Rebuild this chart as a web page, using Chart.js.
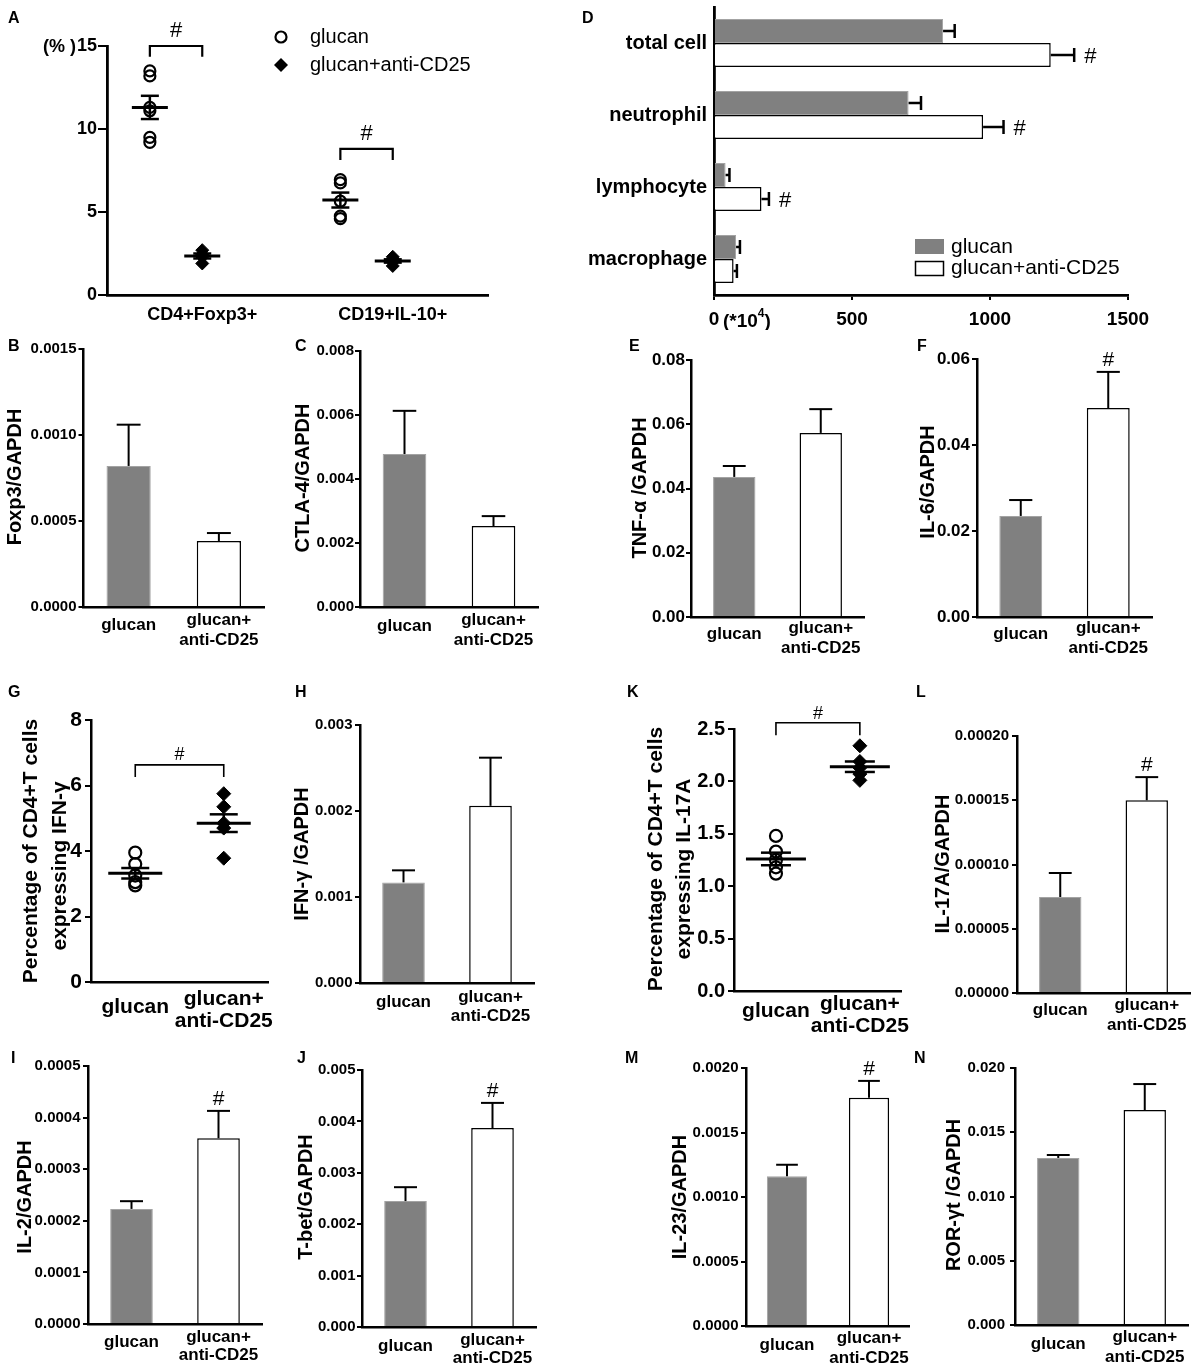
<!DOCTYPE html>
<html>
<head>
<meta charset="utf-8">
<title>glucan vs glucan+anti-CD25</title>
<script src="https://cdn.jsdelivr.net/npm/chart.js@4.4.1/dist/chart.umd.min.js"></script>
<style>
  html, body { margin: 0; padding: 0; background: #fff; }
  body { position: relative; width: 1195px; height: 1371px; overflow: hidden; }
  canvas { position: absolute; }
</style>
</head>
<body>
<script>
// ---- values ----
const groups = ['glucan', 'glucan+anti-CD25'];
const labelLines = [['glucan'], ['glucan+', 'anti-CD25']];

// A: percentage of cells (dot plot)
const aCategories = ['CD4+Foxp3+', 'CD19+IL-10+'];
const aGlucanFoxp3 = [13.5, 13.2, 11.3, 11.1, 9.5, 9.2];
const aAntiFoxp3 = [2.7, 2.45, 2.3, 1.9];
const aGlucanIL10 = [6.95, 6.75, 5.65, 4.75, 4.6];
const aAntiIL10 = [2.3, 2.15, 2.0, 1.75];
const aMeans = [11.3, 2.35, 5.72, 2.05];
const aSems = [0.7, 0.15, 0.45, 0.1];
const aPositions = [0.9, 2, 4.9, 6];
const aTicks = [0, 5, 10, 15];

// D: cell counts (*10^4)
const dCategories = ['total cell', 'neutrophil', 'lymphocyte', 'macrophage'];
const dGlucan = [830, 705, 42, 80];
const dGlucanSem = [42, 45, 14, 14];
const dAnti = [1220, 975, 172, 71];
const dAntiSem = [85, 74, 27, 12];
const dSig = [true, true, true, false];
const dTicks = [0, 500, 1000, 1500];

// mRNA / GAPDH, order [glucan, glucan+anti-CD25]
const foxp3Mean = [0.00082, 0.000384], foxp3Sem = [0.00024, 0.000046], foxp3Sig = [false, false];
const foxp3Ticks = [0, 0.0005, 0.001, 0.0015];
const ctla4Mean = [0.00478, 0.00253], ctla4Sem = [0.00135, 0.00031], ctla4Sig = [false, false];
const ctla4Ticks = [0, 0.002, 0.004, 0.006, 0.008];
const tnfMean = [0.0436, 0.0573], tnfSem = [0.0034, 0.0074], tnfSig = [false, false];
const tnfTicks = [0, 0.02, 0.04, 0.06, 0.08];
const il6Mean = [0.0235, 0.0486], il6Sem = [0.0037, 0.0084], il6Sig = [false, true];
const il6Ticks = [0, 0.02, 0.04, 0.06];
const ifngMean = [0.00117, 0.00206], ifngSem = [0.00014, 0.00056], ifngSig = [false, false];
const ifngTicks = [0, 0.001, 0.002, 0.003];
const il17Mean = [0.0000747, 0.00015], il17Sem = [0.0000187, 0.000018], il17Sig = [false, true];
const il17Ticks = [0, 0.00005, 0.0001, 0.00015, 0.0002];
const il2Mean = [0.000223, 0.00036], il2Sem = [0.000015, 0.000053], il2Sig = [false, true];
const il2Ticks = [0, 0.0001, 0.0002, 0.0003, 0.0004, 0.0005];
const tbetMean = [0.00245, 0.00387], tbetSem = [0.00027, 0.00049], tbetSig = [false, true];
const tbetTicks = [0, 0.001, 0.002, 0.003, 0.004, 0.005];
const il23Mean = [0.00116, 0.00177], il23Sem = [0.00009, 0.00013], il23Sig = [false, true];
const il23Ticks = [0, 0.0005, 0.001, 0.0015, 0.002];
const rorMean = [0.013, 0.01673], rorSem = [0.00023, 0.00202], rorSig = [false, false];
const rorTicks = [0, 0.005, 0.01, 0.015, 0.02];

// G: % CD4+ T cells expressing IFN-γ
const gGlucan = [3.95, 3.6, 3.25, 3.05, 2.95];
const gAnti = [5.75, 5.35, 4.85, 4.7, 3.78];
const gMeans = [3.32, 4.85], gSems = [0.16, 0.27];
const gTicks = [0, 2, 4, 6, 8];

// K: % CD4+ T cells expressing IL-17A
const kGlucan = [1.48, 1.33, 1.25, 1.18, 1.12];
const kAnti = [2.34, 2.19, 2.13, 2.07, 2.01];
const kMeans = [1.26, 2.14], kSems = [0.06, 0.05];
const kTicks = [0, 0.5, 1, 1.5, 2, 2.5];

// ---- drawing ----
const FONT = '"Liberation Sans", Arial, Helvetica, sans-serif';
Chart.defaults.font.family = FONT;
Chart.defaults.color = '#000';
Chart.defaults.animation = false;
Chart.defaults.responsive = false;
Chart.defaults.plugins.legend.display = false;
Chart.defaults.plugins.tooltip.enabled = false;

const GRAY = '#808080';
const GRAY_EDGE = '#a3a3a3';

function addCanvas(rect) {
  const c = document.createElement('canvas');
  c.width = rect[2];
  c.height = rect[3];
  c.style.left = rect[0] + 'px';
  c.style.top = rect[1] + 'px';
  document.body.appendChild(c);
  return c;
}

function text(ctx, s, x, y, size, opts = {}) {
  ctx.save();
  ctx.font = `${opts.weight || 'bold'} ${size}px ${FONT}`;
  ctx.fillStyle = '#000';
  ctx.textAlign = opts.align || 'center';
  ctx.textBaseline = opts.baseline || 'alphabetic';
  ctx.translate(x, y);
  if (opts.rotate) ctx.rotate(-Math.PI / 2);
  ctx.fillText(s, 0, 0);
  const w = ctx.measureText(s).width;
  ctx.restore();
  return w;
}

function line(ctx, pts, w) {
  ctx.save();
  ctx.strokeStyle = '#000';
  ctx.lineWidth = w;
  ctx.beginPath();
  pts.forEach(([x, y], i) => (i ? ctx.lineTo(x, y) : ctx.moveTo(x, y)));
  ctx.stroke();
  ctx.restore();
}

function noPad(s) {
  s.paddingTop = 0; s.paddingBottom = 0; s.paddingLeft = 0; s.paddingRight = 0;
}

function valueAxis(p) {
  const [L] = p.rect;
  return {
    type: 'linear',
    min: p.ticks[0],
    max: p.ticks[p.ticks.length - 1],
    afterBuildTicks: s => { s.ticks = p.ticks.map(v => ({ value: v })); },
    afterFit: s => { s.width = p.axes[0] - L; noPad(s); },
    ticks: { callback: v => Number(v).toFixed(p.decimals), font: { size: p.tickFont, weight: 'bold' }, color: '#000', padding: p.tickPad },
    grid: { drawOnChartArea: false, drawTicks: true, tickLength: p.tickLen, color: '#000', lineWidth: 2 },
    border: { display: true, color: '#000', width: 2.5 }
  };
}

function padding(p) {
  const [L, T, W] = p.rect;
  return { left: 0, top: p.axes[1] - T, right: L + W - p.axes[2], bottom: 0 };
}

function drawCommon(chart, p, positions) {
  const ctx = chart.ctx;
  const [L, T] = p.rect;
  text(ctx, p.letter, p.letterAt[0] - L, p.letterAt[1] - T, 16, { align: 'left' });
  p.titles.forEach(([s, x, y]) => text(ctx, s, x - L, y - T, p.titleSize, { rotate: true, baseline: 'middle' }));
  const xs = chart.scales.x;
  const yAxis = p.axes[3] - T;
  positions.forEach((v, i) => {
    const x = xs.getPixelForValue(v);
    const lines = labelLines[i];
    if (lines.length === 1) text(ctx, lines[0], x, yAxis + p.base[0], p.xFont);
    else lines.forEach((s, k) => text(ctx, s, x, yAxis + p.base[1 + k], p.xFont));
  });
}

function xAxisPlain(p, type, extra) {
  const [, T, , H] = p.rect;
  return Object.assign({
    type,
    afterFit: s => { s.height = T + H - p.axes[3]; noPad(s); },
    ticks: { display: false },
    grid: { display: false, drawTicks: false },
    border: { display: true, color: '#000', width: 2.5 }
  }, extra || {});
}

function barPanel(p) {
  const c = addCanvas(p.rect);
  const deco = {
    id: 'deco',
    afterDatasetsDraw(chart) {
      const ctx = chart.ctx;
      const ys = chart.scales.y;
      chart.getDatasetMeta(0).data.forEach((bar, i) => {
        const top = ys.getPixelForValue(p.means[i] + p.sems[i]);
        const half = bar.width * 0.27;
        line(ctx, [[bar.x, bar.y], [bar.x, top]], 2);
        line(ctx, [[bar.x - half, top], [bar.x + half, top]], 2);
        if (p.sig[i]) text(ctx, '#', bar.x, top - 6, 21, { weight: 'normal' });
      });
      drawCommon(chart, p, [0, 1]);
    }
  };
  new Chart(c, {
    type: 'bar',
    data: {
      labels: groups,
      datasets: [{
        data: p.means,
        backgroundColor: [GRAY, '#ffffff'],
        borderColor: [GRAY_EDGE, '#000000'],
        borderWidth: [1, 1.5],
        barPercentage: 0.49,
        categoryPercentage: 1
      }]
    },
    options: {
      layout: { padding: padding(p) },
      scales: { x: xAxisPlain(p, 'category', { offset: true }), y: valueAxis(p) }
    },
    plugins: [deco]
  });
}

function dotStyles(r) {
  return [
    { pointStyle: 'circle', pointRadius: r, pointBorderWidth: 2.2, pointBorderColor: '#000', pointBackgroundColor: 'rgba(0,0,0,0)' },
    { pointStyle: 'rectRot', pointRadius: r + 1, pointBorderWidth: 1, pointBorderColor: '#000', pointBackgroundColor: '#000' }
  ];
}

function meanSem(ctx, cx, ys, mean, sem, p) {
  const m = ys.getPixelForValue(mean);
  const hi = ys.getPixelForValue(mean + sem);
  const lo = ys.getPixelForValue(mean - sem);
  line(ctx, [[cx, hi], [cx, lo]], 2.5);
  line(ctx, [[cx - p.semHalf, hi], [cx + p.semHalf, hi]], 2.5);
  line(ctx, [[cx - p.semHalf, lo], [cx + p.semHalf, lo]], 2.5);
  line(ctx, [[cx - p.meanHalf, m], [cx + p.meanHalf, m]], 3);
}

function bracket(ctx, xa, xb, ys, top, drop, lw, hashSize, hashGap) {
  const yt = ys.getPixelForValue(top);
  const yd = ys.getPixelForValue(drop);
  line(ctx, [[xa, yd], [xa, yt], [xb, yt], [xb, yd]], lw);
  text(ctx, '#', (xa + xb) / 2, yt - hashGap, hashSize, { weight: 'normal' });
}

function dotPanel(p) {
  const c = addCanvas(p.rect);
  const st = dotStyles(p.pointR);
  const deco = {
    id: 'deco',
    afterDatasetsDraw(chart) {
      const ctx = chart.ctx;
      const xs = chart.scales.x, ys = chart.scales.y;
      [0, 1].forEach(i => meanSem(ctx, xs.getPixelForValue(i), ys, p.means[i], p.sems[i], p));
      bracket(ctx, xs.getPixelForValue(0), xs.getPixelForValue(1), ys, p.bracket[0], p.bracket[1], 1.6, 18, p.hashGap);
      drawCommon(chart, p, [0, 1]);
    }
  };
  new Chart(c, {
    type: 'scatter',
    data: {
      datasets: [
        Object.assign({ data: p.glucan.map(v => ({ x: 0, y: v })) }, st[0]),
        Object.assign({ data: p.anti.map(v => ({ x: 1, y: v })) }, st[1])
      ]
    },
    options: {
      layout: { padding: padding(p) },
      scales: { x: xAxisPlain(p, 'linear', { min: -0.5, max: 1.5 }), y: valueAxis(p) }
    },
    plugins: [deco]
  });
}

// ---- panel A ----
(function () {
  const p = {
    rect: [0, 0, 590, 330], axes: [107, 46, 488, 295],
    ticks: aTicks, decimals: 0, tickFont: 18, tickLen: 9, tickPad: 1,
    meanHalf: 18, semHalf: 9
  };
  const c = addCanvas(p.rect);
  const st = dotStyles(5.5);
  const deco = {
    id: 'decoA',
    afterDatasetsDraw(chart) {
      const ctx = chart.ctx;
      const xs = chart.scales.x, ys = chart.scales.y;
      aPositions.forEach((pos, i) => meanSem(ctx, xs.getPixelForValue(pos), ys, aMeans[i], aSems[i], p));
      bracket(ctx, xs.getPixelForValue(aPositions[0]), xs.getPixelForValue(aPositions[1]), ys, 15, 14.35, 2.2, 22, 9);
      bracket(ctx, xs.getPixelForValue(aPositions[2]), xs.getPixelForValue(aPositions[3]), ys, 8.8, 8.13, 2.2, 22, 9);
      text(ctx, 'A', 8, 23, 16, { align: 'left' });
      text(ctx, '(% )', 76, 47, 18, { align: 'right', baseline: 'middle' });
      aCategories.forEach((s, i) => text(ctx, s, xs.getPixelForValue(aPositions[2 * i + 1]), 320, 18));
      // legend
      ctx.save();
      ctx.lineWidth = 2.2;
      ctx.beginPath(); ctx.arc(281, 37, 5.5, 0, Math.PI * 2); ctx.stroke();
      ctx.beginPath(); ctx.moveTo(281, 58); ctx.lineTo(288, 65); ctx.lineTo(281, 72); ctx.lineTo(274, 65); ctx.closePath(); ctx.fill();
      ctx.restore();
      text(ctx, groups[0], 310, 37, 20, { align: 'left', baseline: 'middle', weight: 'normal' });
      text(ctx, groups[1], 310, 65, 20, { align: 'left', baseline: 'middle', weight: 'normal' });
    }
  };
  const series = [aGlucanFoxp3, aAntiFoxp3, aGlucanIL10, aAntiIL10];
  new Chart(c, {
    type: 'scatter',
    data: {
      datasets: series.map((vals, i) => Object.assign({ data: vals.map(v => ({ x: aPositions[i], y: v })) }, st[i % 2]))
    },
    options: {
      layout: { padding: padding(p) },
      scales: {
        x: xAxisPlain(p, 'linear', { min: 0, max: 8, border: { display: true, color: '#000', width: 2.8 } }),
        y: Object.assign(valueAxis(p), { border: { display: true, color: '#000', width: 2.8 } })
      }
    },
    plugins: [deco]
  });
})();

// ---- panel D ----
(function () {
  const L = 575;
  const c = addCanvas([L, 0, 1195 - L, 330]);
  const deco = {
    id: 'decoD',
    afterDatasetsDraw(chart) {
      const ctx = chart.ctx;
      const xs = chart.scales.x;
      const sems = [dGlucanSem, dAntiSem];
      const vals = [dGlucan, dAnti];
      [0, 1].forEach(d => {
        chart.getDatasetMeta(d).data.forEach((bar, i) => {
          const end = xs.getPixelForValue(vals[d][i] + sems[d][i]);
          line(ctx, [[bar.x, bar.y], [end, bar.y]], 2.5);
          line(ctx, [[end, bar.y - 7], [end, bar.y + 7]], 2.5);
          if (d === 1 && dSig[i]) text(ctx, '#', end + 10, bar.y + 8, 22, { align: 'left', weight: 'normal' });
        });
      });
      text(ctx, 'D', 582 - L, 23, 16, { align: 'left' });
      // unit next to the zero tick
      let x = xs.getPixelForValue(0) + 9;
      x += text(ctx, '(*10', x, 327, 19, { align: 'left' });
      x += text(ctx, '4', x, 317, 12, { align: 'left' });
      text(ctx, ')', x, 327, 19, { align: 'left' });
      // legend
      ctx.save();
      ctx.fillStyle = GRAY;
      ctx.fillRect(915 - L, 239, 29, 15);
      ctx.strokeStyle = '#000';
      ctx.lineWidth = 1.5;
      ctx.strokeRect(915.5 - L, 261.5, 28, 14);
      ctx.restore();
      text(ctx, groups[0], 951 - L, 247, 21, { align: 'left', baseline: 'middle', weight: 'normal' });
      text(ctx, groups[1], 951 - L, 268, 21, { align: 'left', baseline: 'middle', weight: 'normal' });
    }
  };
  new Chart(c, {
    type: 'bar',
    data: {
      labels: dCategories,
      datasets: [
        { data: dGlucan, backgroundColor: GRAY, borderColor: GRAY_EDGE, borderWidth: 1 },
        { data: dAnti, backgroundColor: '#ffffff', borderColor: '#000000', borderWidth: 1.5 }
      ]
    },
    options: {
      indexAxis: 'y',
      datasets: { bar: { categoryPercentage: 0.667, barPercentage: 1 } },
      layout: { padding: { left: 0, top: 7, right: 1195 - 1128, bottom: 0 } },
      scales: {
        x: {
          type: 'linear', min: 0, max: 1500,
          afterBuildTicks: s => { s.ticks = dTicks.map(v => ({ value: v })); },
          afterFit: s => { s.height = 330 - 295; noPad(s); },
          ticks: { font: { size: 19, weight: 'bold' }, color: '#000', padding: 8, callback: v => String(v) },
          grid: { drawOnChartArea: false, drawTicks: true, tickLength: 5, color: '#000', lineWidth: 2 },
          border: { display: true, color: '#000', width: 2.8 }
        },
        y: {
          type: 'category',
          afterFit: s => { s.width = 714 - L; noPad(s); },
          ticks: { font: { size: 20, weight: 'bold' }, color: '#000', padding: 7 },
          grid: { display: false, drawTicks: false },
          border: { display: true, color: '#000', width: 2.8 }
        }
      }
    },
    plugins: [deco]
  });
})();

// ---- bar panels ----
const common = { tickLen: 5, titleSize: 20, xFont: 17 };
[
  { letter: 'B', letterAt: [8, 351], rect: [0, 330, 295, 330], axes: [83.5, 349, 264, 607],
    means: foxp3Mean, sems: foxp3Sem, sig: foxp3Sig, ticks: foxp3Ticks, decimals: 4, tickFont: 15, tickPad: 2,
    titles: [['Foxp3/GAPDH', 15.5, 477]], base: [23, 18, 38] },
  { letter: 'C', letterAt: [295, 351], rect: [295, 330, 295, 330], axes: [360, 351, 538, 607],
    means: ctla4Mean, sems: ctla4Sem, sig: ctla4Sig, ticks: ctla4Ticks, decimals: 3, tickFont: 15, tickPad: 1,
    titles: [['CTLA-4/GAPDH', 303, 478]], base: [24, 18, 38] },
  { letter: 'E', letterAt: [629, 351], rect: [590, 330, 320, 330], axes: [691, 360, 864, 617],
    means: tnfMean, sems: tnfSem, sig: tnfSig, ticks: tnfTicks, decimals: 2, tickFont: 17, tickPad: 1,
    titles: [['TNF-α /GAPDH', 640, 488]], base: [22, 16, 36] },
  { letter: 'F', letterAt: [917, 351], rect: [910, 330, 285, 330], axes: [977, 359, 1152, 617],
    means: il6Mean, sems: il6Sem, sig: il6Sig, ticks: il6Ticks, decimals: 2, tickFont: 17, tickPad: 2,
    titles: [['IL-6/GAPDH', 928, 482]], base: [22, 16, 36] },
  { letter: 'H', letterAt: [295, 697], rect: [290, 660, 300, 370], axes: [360, 725, 534, 983],
    means: ifngMean, sems: ifngSem, sig: ifngSig, ticks: ifngTicks, decimals: 3, tickFont: 15, tickPad: 2.5,
    titles: [['IFN-γ /GAPDH', 302, 854]], base: [24, 19, 38] },
  { letter: 'L', letterAt: [916, 697], rect: [910, 660, 285, 370], axes: [1017, 736, 1190, 993],
    means: il17Mean, sems: il17Sem, sig: il17Sig, ticks: il17Ticks, decimals: 5, tickFont: 15, tickPad: 3,
    titles: [['IL-17A/GAPDH', 943, 864]], base: [22, 17, 37] },
  { letter: 'I', letterAt: [11, 1063], rect: [0, 1030, 290, 341], axes: [88, 1066, 262, 1324],
    means: il2Mean, sems: il2Sem, sig: il2Sig, ticks: il2Ticks, decimals: 4, tickFont: 15, tickPad: 2.5,
    titles: [['IL-2/GAPDH', 25, 1197]], base: [23, 18, 36] },
  { letter: 'J', letterAt: [297, 1063], rect: [290, 1030, 300, 341], axes: [362, 1070, 536, 1327],
    means: tbetMean, sems: tbetSem, sig: tbetSig, ticks: tbetTicks, decimals: 3, tickFont: 15, tickPad: 1.5,
    titles: [['T-bet/GAPDH', 306, 1197]], base: [24, 18, 36] },
  { letter: 'M', letterAt: [625, 1063], rect: [590, 1030, 320, 341], axes: [746, 1068, 919, 1326],
    means: il23Mean, sems: il23Sem, sig: il23Sig, ticks: il23Ticks, decimals: 4, tickFont: 15, tickPad: 2.5,
    titles: [['IL-23/GAPDH', 680, 1197]], base: [24, 17, 37] },
  { letter: 'N', letterAt: [914, 1063], rect: [910, 1030, 285, 341], axes: [1015, 1068, 1188, 1325],
    means: rorMean, sems: rorSem, sig: rorSig, ticks: rorTicks, decimals: 3, tickFont: 15, tickPad: 5,
    titles: [['ROR-γt /GAPDH', 954, 1195]], base: [24, 17, 37] }
].forEach(p => barPanel(Object.assign({}, common, p)));

// ---- dot panels ----
dotPanel({ letter: 'G', letterAt: [8, 697], rect: [0, 660, 290, 385], axes: [91, 720, 268, 982],
  glucan: gGlucan, anti: gAnti, means: gMeans, sems: gSems, ticks: gTicks, decimals: 0,
  tickFont: 21, tickLen: 6, tickPad: 3, titleSize: 21, xFont: 21, base: [31, 23, 45],
  titles: [['Percentage of CD4+T cells', 31, 851], ['expressing IFN-γ', 60, 866]],
  bracket: [6.63, 6.26], hashGap: 5, meanHalf: 27, semHalf: 14, pointR: 6 });
dotPanel({ letter: 'K', letterAt: [627, 697], rect: [590, 660, 320, 385], axes: [734, 729, 912, 991],
  glucan: kGlucan, anti: kAnti, means: kMeans, sems: kSems, ticks: kTicks, decimals: 1,
  tickFont: 20, tickLen: 6, tickPad: 3, titleSize: 21, xFont: 21, base: [26, 19, 41],
  titles: [['Percentage of CD4+T cells', 656, 859], ['expressing IL-17A', 684, 869]],
  bracket: [2.56, 2.44], hashGap: 4, meanHalf: 30, semHalf: 15, pointR: 6 });
</script>
</body>
</html>
